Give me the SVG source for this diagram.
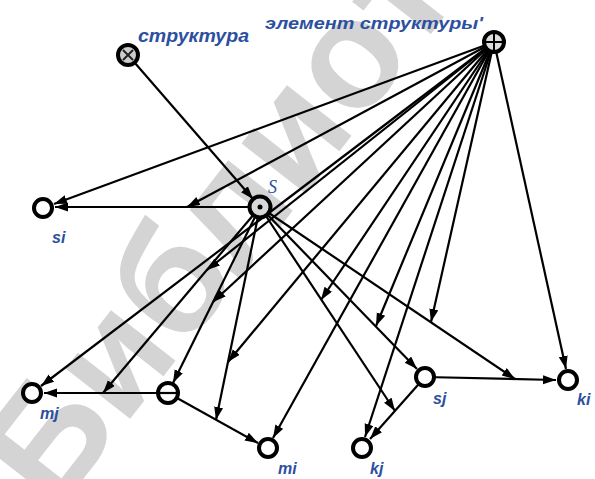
<svg xmlns="http://www.w3.org/2000/svg" width="595" height="479" viewBox="0 0 595 479">
<defs>
<marker id="ah" markerUnits="userSpaceOnUse" markerWidth="14" markerHeight="10" refX="13" refY="4.5" orient="auto">
<path d="M0,0 L13,4.5 L0,9 z" fill="#000"/>
</marker>
<style>
.a{stroke:#000;stroke-width:2.2;fill:none;marker-end:url(#ah)}
.n{fill:#fff;stroke:#000;stroke-width:4}
.lb{font-family:"Liberation Sans",Arial,sans-serif;font-weight:bold;font-style:italic;fill:#2c4f9f;font-size:15px}
.wm{font-family:"Liberation Sans",Arial,sans-serif;font-weight:bold;fill:#d4d4d4;font-size:155px}
</style>
</defs>
<rect width="595" height="479" fill="#fff"/>
<text class="wm" transform="translate(55,515) rotate(-52)">Библиотека</text>
<g id="connectors">
<line class="a" x1="128" y1="55" x2="253" y2="199"/>
<line class="a" x1="249" y1="207" x2="55" y2="207"/>
<line class="a" x1="260" y1="207" x2="173" y2="383"/>
<line class="a" x1="260" y1="207" x2="103" y2="393"/>
<line class="a" x1="260" y1="207" x2="216" y2="420"/>
<line class="a" x1="260" y1="207" x2="417" y2="369"/>
<line class="a" x1="260" y1="207" x2="395" y2="411"/>
<line class="a" x1="260" y1="207" x2="515" y2="379"/>
<line class="a" x1="168" y1="393" x2="44" y2="393"/>
<line class="a" x1="168" y1="393" x2="258" y2="443"/>
<line class="a" x1="425" y1="377" x2="556" y2="380"/>
<line class="a" x1="425" y1="377" x2="370" y2="439"/>
<line class="a" x1="494" y1="42" x2="54" y2="204"/>
<line class="a" x1="494" y1="42" x2="187" y2="207"/>
<line class="a" x1="494" y1="42" x2="41" y2="386"/>
<line class="a" x1="494" y1="42" x2="207" y2="270"/>
<line class="a" x1="494" y1="42" x2="213" y2="302"/>
<line class="a" x1="494" y1="42" x2="228" y2="362"/>
<line class="a" x1="494" y1="42" x2="273" y2="438"/>
<line class="a" x1="494" y1="42" x2="321" y2="300"/>
<line class="a" x1="494" y1="42" x2="376" y2="326"/>
<line class="a" x1="494" y1="42" x2="431" y2="322"/>
<line class="a" x1="494" y1="42" x2="365" y2="437"/>
<line class="a" x1="494" y1="42" x2="566" y2="369"/>
</g>
<g id="structura">
<circle class="n" cx="128" cy="55" r="10" style="fill:#ccc"/>
<path d="M123,50 L133,60 M133,50 L123,60" stroke="#222" stroke-width="2"/>
<text class="lb" x="138" y="42" style="font-size:19px" textLength="111" lengthAdjust="spacingAndGlyphs">структура</text>
</g>
<g id="element">
<circle class="n" cx="494" cy="42" r="10" style="fill:#ddd"/>
<path d="M494,33 L494,51 M485,42 L503,42" stroke="#000" stroke-width="2"/>
<text class="lb" x="265" y="29" style="font-size:16px" textLength="218" lengthAdjust="spacingAndGlyphs">элемент структуры'</text>
</g>
<g id="S">
<circle class="n" cx="260" cy="207" r="10.5" style="fill:#d8d8d8"/>
<circle cx="260" cy="207" r="2.5" fill="#000"/>
<text x="268" y="193" font-family="Liberation Serif,serif" font-style="italic" font-size="18" fill="#2c4f9f">S</text>
</g>
<g id="si">
<circle class="n" cx="43" cy="208" r="9"/>
<text class="lb" x="52" y="243" style="font-size:16px">si</text>
</g>
<g id="mj">
<circle class="n" cx="32" cy="393" r="9"/>
<text class="lb" x="40" y="419" style="font-size:16px">mj</text>
</g>
<g id="m">
<circle class="n" cx="168" cy="393" r="10"/>
<line x1="158" y1="393" x2="178" y2="393" stroke="#000" stroke-width="2.2"/>
</g>
<g id="mi">
<circle class="n" cx="268" cy="448" r="9"/>
<text class="lb" x="278" y="474" style="font-size:16px">mi</text>
</g>
<g id="kj">
<circle class="n" cx="362" cy="448" r="9"/>
<text class="lb" x="370" y="474" style="font-size:16px">kj</text>
</g>
<g id="sj">
<circle class="n" cx="425" cy="377" r="9"/>
<text class="lb" x="433" y="404" style="font-size:16px">sj</text>
</g>
<g id="ki">
<circle class="n" cx="568" cy="380" r="9"/>
<text class="lb" x="577" y="405" style="font-size:16px">ki</text>
</g>
</svg>
